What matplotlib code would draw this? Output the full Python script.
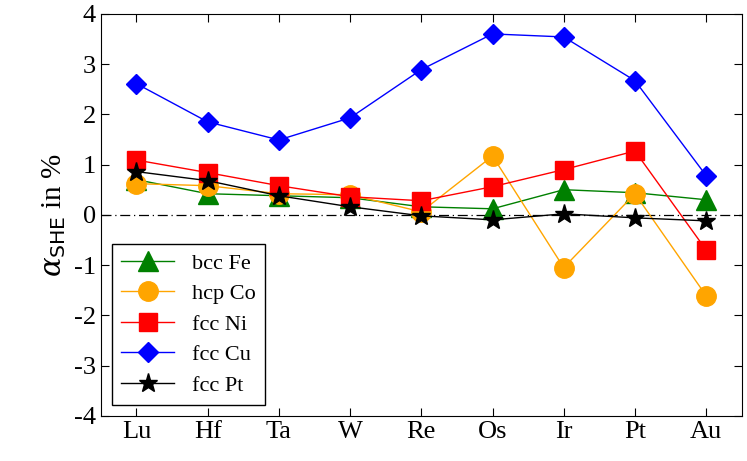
import matplotlib
matplotlib.use("Agg")
import matplotlib.pyplot as plt

elements = ["Lu", "Hf", "Ta", "W", "Re", "Os", "Ir", "Pt", "Au"]
fe = [0.70, 0.42, 0.38, 0.34, 0.16, 0.12, 0.50, 0.44, 0.30]
co = [0.62, 0.58, 0.42, 0.40, 0.06, 1.17, -1.05, 0.42, -1.61]
ni = [1.09, 0.84, 0.58, 0.36, 0.28, 0.56, 0.90, 1.27, -0.70]
cu = [2.61, 1.85, 1.49, 1.93, 2.89, 3.60, 3.54, 2.67, 0.78]
pt = [0.86, 0.68, 0.38, 0.16, -0.02, -0.10, 0.02, -0.06, -0.12]

plt.rcParams["font.family"] = "serif"
plt.rcParams["font.serif"] = ["Liberation Serif", "DejaVu Serif"]
plt.rcParams["mathtext.fontset"] = "dejavuserif"
plt.rcParams["axes.unicode_minus"] = False

fig, ax = plt.subplots(figsize=(7.47, 4.61), dpi=100)
fig.subplots_adjust(left=0.135, right=0.993, top=0.97, bottom=0.098)
x = list(range(len(elements)))

ax.axhline(0, color="black", lw=0.9, ls=(0, (8, 3, 1, 3)))
ax.plot(x, fe, color="green", marker="^", ms=14, lw=1, label="bcc Fe")
ax.plot(x, co, color="orange", marker="o", ms=14, lw=1, label="hcp Co")
ax.plot(x, ni, color="red", marker="s", ms=13, lw=1, label="fcc Ni")
ax.plot(x, cu, color="blue", marker="D", ms=10, lw=1, label="fcc Cu")
ax.plot(x, pt, color="black", marker="*", ms=14, lw=1, label="fcc Pt")

ax.set_xlim(-0.5, len(elements) - 0.5)
ax.set_ylim(-4, 4)
ax.set_xticks(x)
ax.set_xticklabels(elements)
ax.set_yticks(range(-4, 5))
ax.tick_params(direction="in", top=True, right=True, labelsize=19, length=6)
ax.set_ylabel(r"$\alpha_{\mathsf{SHE}}$ in %", fontsize=21)
ax.legend(loc="lower left", fontsize=16, fancybox=False, edgecolor="black",
          framealpha=1, borderaxespad=0.5, handlelength=2.4, labelspacing=0.45)

fig.savefig("out.png", dpi=100)
